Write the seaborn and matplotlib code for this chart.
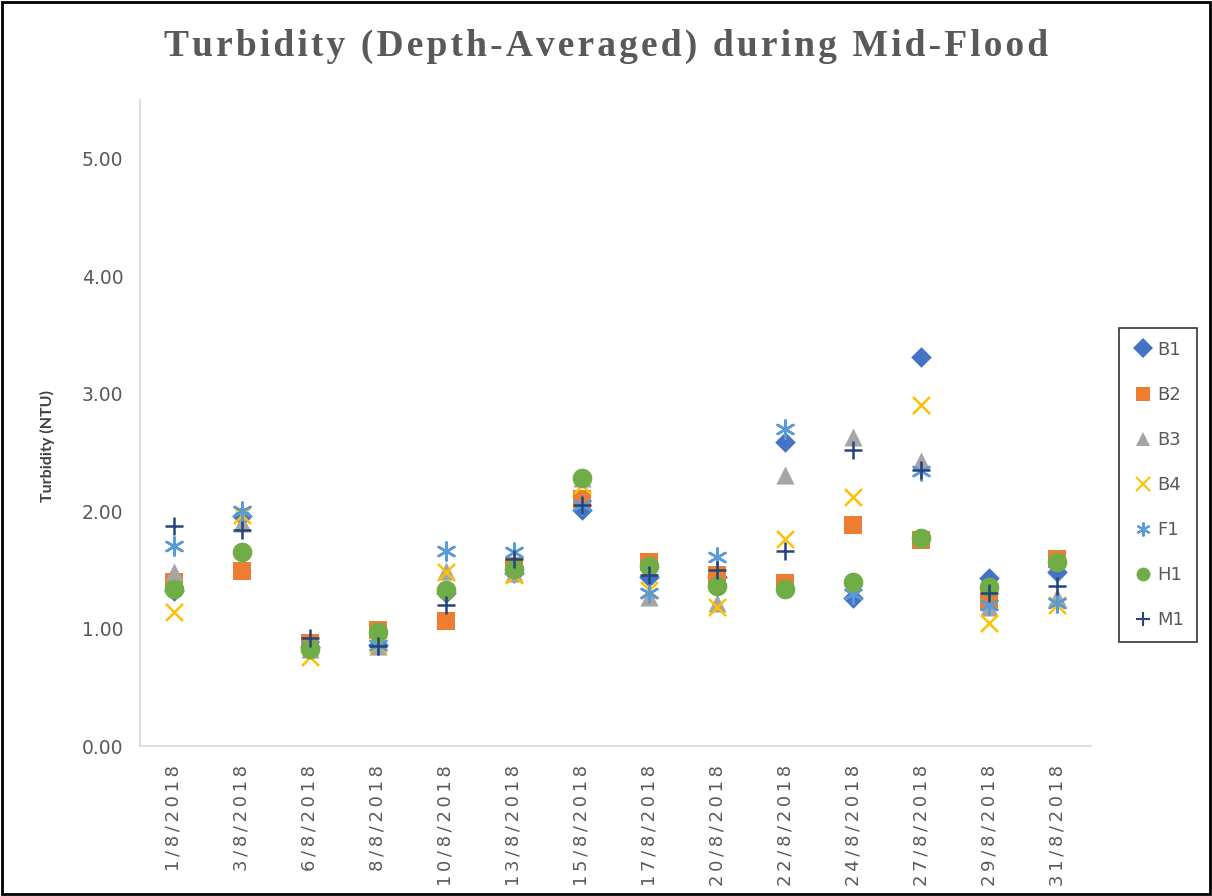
import matplotlib
matplotlib.use("Agg")
import matplotlib.pyplot as plt
import seaborn as sns
import pandas as pd
from matplotlib.patches import Rectangle
from matplotlib.lines import Line2D

dates = ["1/8/2018", "3/8/2018", "6/8/2018", "8/8/2018", "10/8/2018", "13/8/2018", "15/8/2018",
         "17/8/2018", "20/8/2018", "22/8/2018", "24/8/2018", "27/8/2018", "29/8/2018", "31/8/2018"]

B1 = [1.32, 1.96, 0.84, 0.86, 1.30, 1.47, 2.01, 1.44, 1.44, 2.59, 1.26, 3.31, 1.43, 1.48]
B2 = [1.40, 1.49, 0.88, 0.99, 1.06, 1.53, 2.10, 1.57, 1.46, 1.39, 1.88, 1.75, 1.23, 1.59]
B3 = [1.48, 1.90, 0.83, 0.85, 1.49, 1.47, 2.28, 1.27, 1.22, 2.31, 2.63, 2.43, 1.18, 1.27]
B4 = [1.14, 1.97, 0.76, 0.87, 1.48, 1.46, 2.22, 1.33, 1.18, 1.76, 2.12, 2.90, 1.05, 1.20]
F1 = [1.70, 2.00, 0.85, 0.86, 1.66, 1.65, 2.05, 1.30, 1.61, 2.70, 1.29, 2.34, 1.20, 1.22]
H1 = [1.34, 1.65, 0.83, 0.97, 1.33, 1.51, 2.28, 1.53, 1.36, 1.34, 1.40, 1.77, 1.35, 1.57]
M1 = [1.87, 1.84, 0.92, 0.85, 1.20, 1.59, 2.05, 1.46, 1.50, 1.66, 2.52, 2.35, 1.30, 1.36]

series_names = ["B1", "B2", "B3", "B4", "F1", "H1", "M1"]
series_vals = [B1, B2, B3, B4, F1, H1, M1]
colors = ["#4472C4", "#ED7D31", "#A5A5A5", "#FFC000", "#5B9BD5", "#70AD47", "#264478"]
markers = ["D", "s", "^", "x", (6, 2, 0), "o", "+"]
sizes = [110, 150, 170, 150, 170, 200, 170]

rows = []
for name, vals in zip(series_names, series_vals):
    for d, v in zip(dates, vals):
        rows.append({"date": d, "series": name, "value": v})
df = pd.DataFrame(rows)
df["date"] = pd.Categorical(df["date"], categories=dates, ordered=True)
df["xpos"] = df["date"].cat.codes

sns.set_theme(style="white")
fig = plt.figure(figsize=(12.12, 8.96), dpi=100)
ax = fig.add_axes([140 / 1212, 1 - 746 / 896, (1091 - 140) / 1212, (746 - 100) / 896])


def is_filled(m):
    return m not in ("x", "+") and not isinstance(m, tuple)


for name, c, m, s in zip(series_names, colors, markers, sizes):
    sub = df[df["series"] == name]
    if is_filled(m):
        sns.scatterplot(data=sub, x="xpos", y="value", ax=ax, color=c, marker=m, s=s,
                        edgecolor=c, linewidth=0, legend=False, zorder=3)
    else:
        sns.scatterplot(data=sub, x="xpos", y="value", ax=ax, color=c, marker=m, s=s,
                        linewidth=1.8, legend=False, zorder=3)

ax.set_xlim(-0.5, len(dates) - 0.5)
ax.set_ylim(0, 5.5)
ax.set_yticks([0, 1, 2, 3, 4, 5])
ax.set_yticklabels([f"{v:.2f}" for v in [0, 1, 2, 3, 4, 5]], fontsize=13.5, color="#595959",
                   family="DejaVu Sans")
ax.set_xticks(range(len(dates)))
ax.set_xticklabels(["\u2009".join(list(d)) for d in dates],
                   rotation=90, fontsize=13, color="#595959", family="DejaVu Sans")
ax.tick_params(axis="y", length=0, pad=12)
ax.tick_params(axis="x", length=0, pad=13.5)
ax.set_xlabel("")
ax.set_ylabel("Turbidity (NTU)", fontsize=11.5, fontweight="bold", color="#404040",
              family="Lato")
ax.yaxis.set_label_coords((55 - 140) / 951, (746 - 446) / 646)
for sp in ["top", "right"]:
    ax.spines[sp].set_visible(False)
for sp in ["left", "bottom"]:
    ax.spines[sp].set_color("#D9D9D9")
    ax.spines[sp].set_linewidth(1.2)

title = "Turbidity (Depth-Averaged) during Mid-Flood"
fig.text(0.5, 1 - 46 / 896, "\u200a".join(list(title)), ha="center", va="center",
         fontsize=27, fontweight="bold", color="#595959",
         family=["Liberation Serif", "DejaVu Serif"])

handles = []
for name, c, m in zip(series_names, colors, markers):
    handles.append(Line2D([], [], linestyle="none", marker=m, color=c, markersize=10,
                          markeredgewidth=0 if is_filled(m) else 1.5, label=name))
leg = fig.legend(handles=handles, loc="center", bbox_to_anchor=(1158 / 1212, 1 - 485 / 896),
                 frameon=True, fontsize=13, labelspacing=1.5, handletextpad=0.2,
                 handlelength=1.2, borderpad=0.7, borderaxespad=0, fancybox=False)
leg.get_frame().set_edgecolor("black")
leg.get_frame().set_linewidth(1.2)
for t in leg.get_texts():
    t.set_color("#595959")

fig.patches.append(Rectangle((0.002, 0.002), 0.996, 0.996, transform=fig.transFigure,
                             fill=False, edgecolor="black", linewidth=2))

fig.savefig("out.png", dpi=100)
